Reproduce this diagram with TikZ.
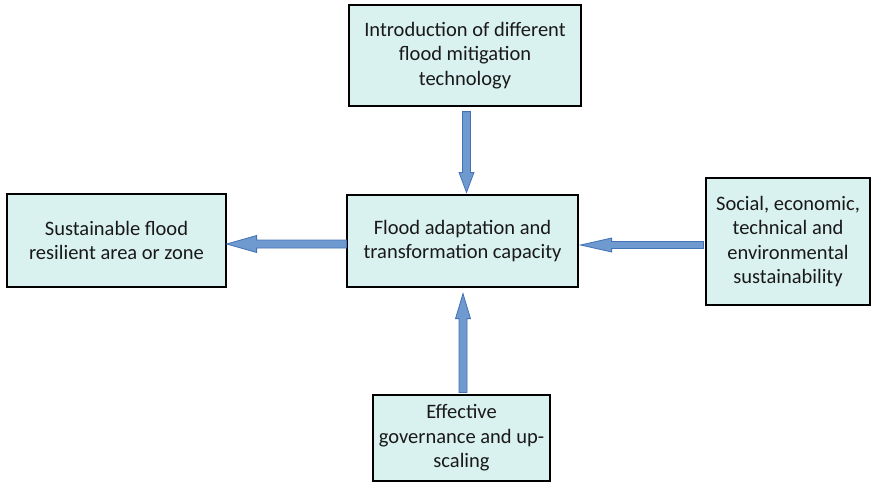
\documentclass[tikz,border=0pt]{standalone}
\usepackage{fontspec}
\setmainfont{Carlito}
\usetikzlibrary{calc}
\definecolor{boxfill}{HTML}{DAF2EF}
\definecolor{arrowfill}{HTML}{6E9AD0}
\definecolor{arrowedge}{HTML}{4472B4}
\tikzset{
  block/.style={draw=black, line width=1.2pt, fill=boxfill, align=center,
    font=\fontsize{20.5}{24.5}\selectfont, text=black!90, inner sep=0pt},
  fatarrow/.style={fill=arrowfill, draw=arrowedge, line width=0.8pt, line join=miter}
}
% block arrow: shaft half width, head half width, head length, start, tip
\newcommand{\blockarrow}[5]{%
  \coordinate (hb) at ($(#5)!#3!(#4)$);
  \draw[fatarrow] ($(#4)!#1!90:(#5)$) -- ($(hb)!#1!-90:(#4)$) -- ($(hb)!#2!-90:(#4)$)
    -- (#5) -- ($(hb)!#2!90:(#4)$) -- ($(hb)!#1!90:(#4)$) -- ($(#4)!#1!-90:(#5)$) -- cycle;}

\begin{document}
\begin{tikzpicture}[x=1pt,y=-1pt]
\useasboundingbox (0,0) rectangle (871,482);
% boxes
\node[block, minimum width=232pt, minimum height=101pt] (tech) at (465,55.5)
  {Introduction of different\\flood mitigation\\technology};
\node[block, minimum width=231pt, minimum height=92pt] (core) at (462.5,241)
  {Flood adaptation and\\transformation capacity};
\node[block, minimum width=219pt, minimum height=93pt] (zone) at (116.5,240.5)
  {Sustainable flood\\resilient area or zone};
\node[block, minimum width=164pt, minimum height=127pt] (sustain) at (788,241.5)
  {Social, economic,\\technical and\\environmental\\sustainability};
\node[block, minimum width=177pt, minimum height=86pt] (gov) at (461.5,438)
  {Effective\\governance and up-\\scaling};
% arrow ends
\coordinate (techout) at ([xshift=1.5pt,yshift=-5pt]tech.south);
\coordinate (corein1) at ([xshift=4pt,yshift=2pt]core.north);
\coordinate (coreout) at ([yshift=-3pt]core.west);
\coordinate (zonein) at ([yshift=-3.5pt]zone.east);
\coordinate (sustainout) at ([xshift=-2pt,yshift=-3.5pt]sustain.west);
\coordinate (corein2) at ([xshift=2pt,yshift=-4pt]core.east);
\coordinate (govout) at ([xshift=1.5pt,yshift=2pt]gov.north);
\coordinate (corein3) at ([xshift=0.5pt,yshift=-6pt]core.south);
% arrows
\blockarrow{4pt}{7.5pt}{20pt}{techout}{corein1}
\blockarrow{4pt}{8.5pt}{30pt}{coreout}{zonein}
\blockarrow{3.5pt}{7pt}{31pt}{sustainout}{corein2}
\blockarrow{4pt}{7.5pt}{25pt}{govout}{corein3}
\end{tikzpicture}
\end{document}
